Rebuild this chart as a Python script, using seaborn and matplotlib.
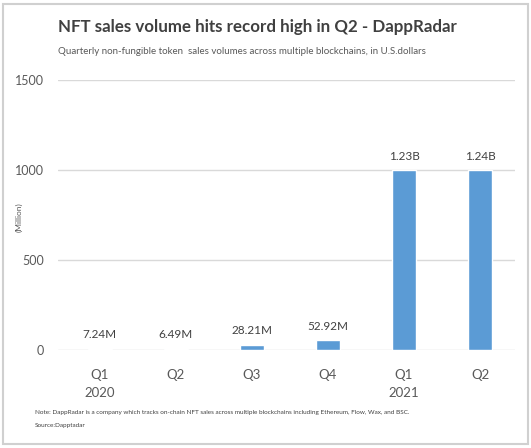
import matplotlib
matplotlib.use("Agg")
import matplotlib.pyplot as plt
import seaborn as sns
import pandas as pd
from matplotlib.patches import Rectangle

# data (bar heights in millions as drawn)
periods = ["2020Q1", "2020Q2", "2020Q3", "2020Q4", "2021Q1", "2021Q2"]
tick_labels = ["Q1\n2020", "Q2", "Q3", "Q4", "Q1\n2021", "Q2"]
bar_heights = [7.24, 6.49, 28.21, 52.92, 1000, 1000]
value_labels = ["7.24M", "6.49M", "28.21M", "52.92M", "1.23B", "1.24B"]
y_ticks = [0, 500, 1000, 1500]

df = pd.DataFrame({"period": periods, "volume": bar_heights})

sns.set_style("white")
plt.rcParams["font.family"] = ["Lato", "DejaVu Sans"]

fig = plt.figure(figsize=(5.31, 4.48), dpi=100)
ax = fig.add_axes([0.109, 0.219, 0.861, 0.602])

sns.barplot(data=df, x="period", y="volume", color="#5B9BD5", saturation=1,
            width=0.32, ax=ax)

ax.set_ylim(0, 1500)
ax.set_xlim(-0.55, 5.46)
ax.set_yticks(y_ticks)
ax.set_yticklabels([str(t) for t in y_ticks], color="#595959", fontsize=9)
ax.set_xticks(range(len(periods)))
ax.set_xticklabels(tick_labels, color="#595959", fontsize=9.5, linespacing=1.6)
ax.tick_params(axis="y", length=0, pad=10)
ax.tick_params(axis="x", length=0, pad=14)
ax.set_xlabel("")
ax.set_ylabel("")
ax.yaxis.grid(True, color="#d9d9d9", linewidth=1)
ax.set_axisbelow(True)
for s in ["top", "right", "left", "bottom"]:
    ax.spines[s].set_visible(False)

for i, (h, lab) in enumerate(zip(bar_heights, value_labels)):
    ax.annotate(lab, (i, h), xytext=(0, 6), textcoords="offset points",
                ha="center", va="bottom", fontsize=8.5, color="#404040")

fig.text(0.036, 0.515, "(Million)", rotation=90, fontsize=6, color="#595959",
         ha="center", va="center")
fig.text(0.109, 0.94, "NFT sales volume hits record high in Q2 - DappRadar",
         fontsize=12.2, fontweight="bold", color="#404040", va="center")
fig.text(0.109, 0.886,
         "Quarterly non-fungible token  sales volumes across multiple blockchains, in U.S.dollars",
         fontsize=7, color="#595959", va="center")
fig.text(0.066, 0.08,
         "Note: DappRadar is a company which tracks on-chain NFT sales across multiple blockchains including Ethereum, Flow, Wax, and BSC.",
         fontsize=4.6, color="#404040", va="center")
fig.text(0.066, 0.051, "Source:Dapptadar", fontsize=4.6, color="#404040", va="center")

fig.patches.append(Rectangle((0.006, 0.008), 0.988, 0.984, transform=fig.transFigure,
                             fill=False, edgecolor="#d0d0d0", linewidth=1.5))

fig.savefig("out.png", dpi=100)
